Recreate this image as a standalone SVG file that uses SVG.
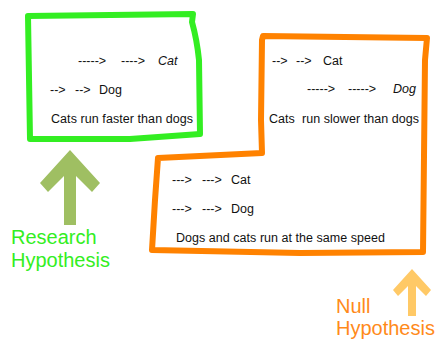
<svg xmlns="http://www.w3.org/2000/svg" width="440" height="339" viewBox="0 0 440 339">
<style>
.t{font-family:"Liberation Sans",Arial,sans-serif;font-size:12.5px;fill:#111}
.i{font-style:italic}
.big{font-family:"Liberation Sans",Arial,sans-serif;font-size:20px}
.box{fill:none;stroke-width:6;stroke-linejoin:round;stroke-linecap:round}
</style>
<rect width="440" height="339" fill="#fff"/>
<g id="research-box">
<path class="box" stroke="#33ee22" d="M28,16 L193,14 L192,22 Q197,40 199,60 L200,134 L130,139 L30,139 Z"/>
<text class="t" x="78" y="65">-----&gt;</text>
<text class="t" x="121" y="65">----&gt;</text>
<text class="t i" x="158" y="65">Cat</text>
<text class="t" x="50" y="94">--&gt;</text>
<text class="t" x="75" y="94">--&gt;</text>
<text class="t" x="99" y="94">Dog</text>
<text class="t" x="51" y="123" textLength="142">Cats run faster than dogs</text>
</g>
<g id="null-box">
<path class="box" stroke="#ff8200" d="M263,36 L427,38 L425,60 L423,252 L300,253 L152,250 L155,200 L158,158 L262,153 L261,120 L262,40 Z"/>
<text class="t" x="272" y="65">--&gt;</text>
<text class="t" x="296" y="65">--&gt;</text>
<text class="t" x="323" y="65">Cat</text>
<text class="t" x="307" y="93">-----&gt;</text>
<text class="t" x="348" y="93">-----&gt;</text>
<text class="t i" x="393" y="93">Dog</text>
<text class="t" x="269" y="123" textLength="150" xml:space="preserve">Cats  run slower than dogs</text>
<text class="t" x="172" y="184">---&gt;</text>
<text class="t" x="202" y="184">---&gt;</text>
<text class="t" x="231" y="184">Cat</text>
<text class="t" x="172" y="213">---&gt;</text>
<text class="t" x="202" y="213">---&gt;</text>
<text class="t" x="231" y="213">Dog</text>
<text class="t" x="176" y="242" textLength="209">Dogs and cats run at the same speed</text>
</g>
<g id="research-label">
<polygon fill="#9fbf62" points="70,150 100,183 92,192 76,176 76,225 64,225 64,176 48,192 40,183"/>
<text class="big" fill="#33ee22" x="11" y="244">Research</text>
<text class="big" fill="#33ee22" x="11" y="267">Hypothesis</text>
</g>
<g id="null-label">
<polygon fill="#ffc966" points="412,269 431,290 426,296 416,286 416,316 408,316 408,286 398,296 393,290"/>
<text class="big" fill="#ff8a1a" x="336" y="313">Null</text>
<text class="big" fill="#ff8a1a" x="336" y="335">Hypothesis</text>
</g>
<g id="connectors"/>
</svg>
